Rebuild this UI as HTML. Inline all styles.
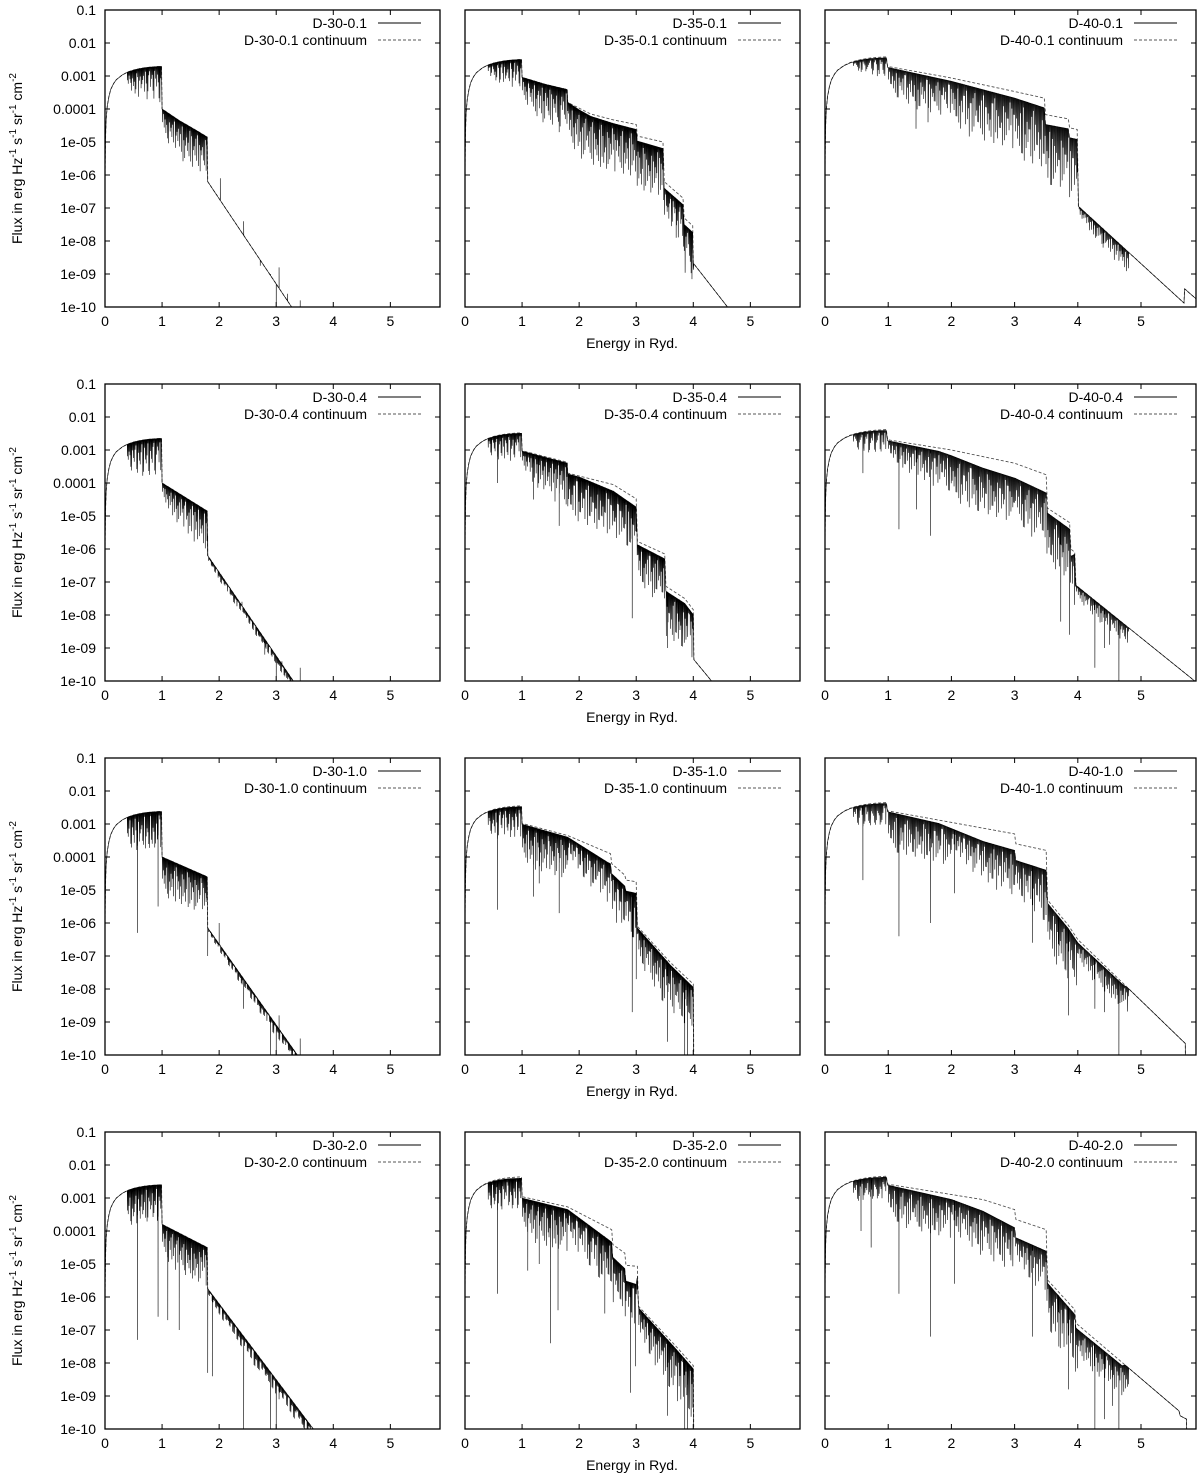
<!DOCTYPE html>
<html><head><meta charset="utf-8">
<style>
html,body{margin:0;padding:0;background:#fff;}
svg{display:block;font-family:"Liberation Sans",sans-serif;}
</style></head>
<body>
<svg id="fig" width="1200" height="1481" viewBox="0 0 1200 1481" xmlns="http://www.w3.org/2000/svg"></svg>
<script>
// ---------- data ----------
const yTickLabels = ["0.1","0.01","0.001","0.0001","1e-05","1e-06","1e-07","1e-08","1e-09","1e-10"];
const yTickLogs = [-1,-2,-3,-4,-5,-6,-7,-8,-9,-10];
const xTickLabels = ["0","1","2","3","4","5"];
const xTickVals = [0,1,2,3,4,5];
const panelNames = ["D-30-0.1","D-35-0.1","D-40-0.1","D-30-0.4","D-35-0.4","D-40-0.4","D-30-1.0","D-35-1.0","D-40-1.0","D-30-2.0","D-35-2.0","D-40-2.0"];
// rising part: dex relative to peak
const rise = [[0,-3.4],[0.01,-2.1],[0.02,-1.6],[0.04,-1.2],[0.07,-0.9],[0.1,-0.7],[0.15,-0.52],[0.2,-0.4],[0.3,-0.26],[0.4,-0.17],[0.5,-0.11],[0.6,-0.07],[0.7,-0.04],[0.8,-0.02],[0.97,0]];
const peaks = [-2.71,-2.5,-2.42,-2.65,-2.48,-2.38,-2.62,-2.45,-2.35,-2.6,-2.36,-2.34];
const cont0 = [[0.99,-2.71],[1.0,-4.0],[1.3,-4.35],[1.6,-4.65],[1.79,-4.85],[1.8,-6.2],[3.27,-10],[3.6,-10.9]];
const cont1 = [[0.99,-2.5],[1.0,-3.04],[1.4,-3.25],[1.79,-3.41],[1.8,-3.8],[2.2,-4.15],[2.6,-4.33],[3.0,-4.47],[3.02,-4.82],[3.47,-5.0],[3.49,-6.2],[3.82,-6.7],[3.84,-7.3],[3.99,-7.54],[4.0,-8.67],[4.6,-10],[5.0,-10.9]];
const cont2 = [[0.97,-2.42],[0.99,-2.71],[2.0,-3.06],[3.0,-3.47],[3.47,-3.67],[3.49,-4.17],[3.85,-4.3],[3.87,-4.57],[3.99,-4.62],[4.01,-6.95],[5.68,-9.88],[5.69,-9.45],[5.9,-9.8]];
const cont3 = [[0.99,-2.65],[1.0,-4.0],[1.79,-4.85],[1.8,-6.2],[3.3,-10],[3.6,-10.8]];
const cont4 = [[0.99,-2.48],[1.0,-3.02],[1.4,-3.2],[1.79,-3.37],[1.8,-3.7],[2.6,-4.05],[3.0,-4.48],[3.02,-5.77],[3.5,-6.15],[3.52,-7.13],[3.85,-7.5],[4.0,-7.84],[4.01,-9.35],[4.32,-10],[4.6,-10.6]];
const cont5 = [[0.97,-2.38],[0.99,-2.69],[2.0,-3.0],[3.0,-3.4],[3.5,-3.75],[3.52,-4.76],[3.87,-5.2],[3.89,-6.0],[3.95,-6.1],[3.97,-7.1],[5.85,-10.0],[5.9,-10.1]];
const cont6 = [[0.99,-2.62],[1.0,-4.0],[1.79,-4.6],[1.8,-6.15],[3.37,-10],[3.6,-10.6]];
const cont7 = [[0.99,-2.45],[1.0,-2.98],[1.8,-3.35],[2.55,-3.9],[2.57,-4.2],[2.8,-4.55],[2.82,-4.7],[3.0,-4.75],[3.02,-6.1],[3.6,-7.2],[4.0,-7.85],[4.01,-11]];
const cont8 = [[0.97,-2.35],[0.99,-2.6],[3.0,-3.3],[3.02,-3.6],[3.5,-3.8],[3.52,-5.3],[3.85,-6.07],[4.0,-6.5],[5.7,-9.65],[5.71,-11]];
const cont9 = [[0.99,-2.6],[1.0,-3.8],[1.79,-4.5],[1.8,-5.75],[3.65,-10],[3.8,-10.35]];
const cont10 = [[0.99,-2.36],[1.0,-2.96],[1.8,-3.27],[2.57,-3.96],[2.59,-4.41],[2.8,-4.67],[2.82,-5.04],[3.02,-5.07],[3.04,-6.28],[3.7,-7.5],[4.0,-8.08],[4.01,-11]];
const cont11 = [[0.97,-2.34],[0.99,-2.58],[2.5,-3.05],[3.0,-3.35],[3.02,-3.65],[3.5,-3.96],[3.52,-5.48],[3.95,-6.38],[3.97,-6.79],[5.6,-9.45],[5.62,-9.6],[5.72,-9.7],[5.73,-11]];
// spectrum upper envelope: dex below continuum
const off0 = [[0,0],[6,0]];
const off1 = [[0,0],[1.8,0],[2.0,0.05],[3.0,0.15],[3.5,0.2],[4,0.2],[4.01,0],[6,0]];
const off2 = [[0,0],[1,0.03],[2,0.1],[3,0.2],[3.5,0.3],[3.99,0.3],[4.01,0],[6,0]];
const off3 = [[0,0],[6,0]];
const off4 = [[0,0],[2,0.03],[2.6,0.2],[3.0,0.25],[3.02,0.1],[3.5,0.15],[4,0.15],[4.01,0],[6,0]];
const off5 = [[0,0],[1,0.03],[1.8,0.1],[2.5,0.35],[3.0,0.45],[3.5,0.55],[3.52,0.15],[3.9,0.2],[3.97,0],[6,0]];
const off6 = [[0,0],[6,0]];
const off7 = [[0,0],[1.8,0.05],[2.5,0.3],[3.0,0.35],[3.02,0.05],[4,0.1],[6,0.1]];
const off8 = [[0,0],[1,0.03],[1.8,0.1],[2.5,0.4],[3.0,0.5],[3.5,0.6],[3.52,0.1],[4,0.1],[4.7,0.05],[4.8,0],[6,0]];
const off9 = [[0,0],[6,0]];
const off10 = [[0,0],[1.8,0.08],[2.5,0.35],[3.0,0.55],[3.04,0.05],[4,0.1],[6,0.1]];
const off11 = [[0,0],[1,0.03],[2,0.15],[2.5,0.35],[3.0,0.55],[3.5,0.65],[3.52,0.1],[4,0.15],[4.7,0.1],[4.75,0],[6,0]];
// line-forest depth patterns (digit x scale = dex)
const S1 = "2131423152413625142736251437261548362715392648173526481937";
const S2 = "3142536172435261748352637194825364718293546271839425367182";
const S3 = "4253617483527164938271546372819364758291738465928374615293";
const S4 = "5364728195736482917364859273648519283746592837465192837465";
const forest0 = [[0.38,0.99,0.12,S1],[1.0,1.79,0.13,S2]];
const forest1 = [[0.4,0.99,0.09,S1],[1.0,1.8,0.13,S2],[1.8,3.5,0.16,S3+S4],[3.5,4.0,0.16,S1]];
const forest2 = [[0.45,0.97,0.06,S1],[1.0,2.0,0.12,S2],[2.0,3.0,0.17,S3],[3.0,4.0,0.2,S4],[4.0,4.8,0.07,S1]];
const forest3 = [[0.38,0.99,0.12,S2],[1.0,1.79,0.13,S1],[1.8,3.4,0.03,S3]];
const forest4 = [[0.4,0.99,0.09,S2],[1.0,1.8,0.14,S1],[1.8,3.0,0.15,S4],[3.0,4.0,0.15,S3]];
const forest5 = [[0.45,0.97,0.07,S2],[1.0,2.0,0.12,S1],[2.0,3.0,0.15,S4],[3.0,3.97,0.17,S3],[3.97,4.8,0.06,S2]];
const forest6 = [[0.38,0.99,0.12,S3],[1.0,1.79,0.13,S4],[1.8,3.4,0.04,S1]];
const forest7 = [[0.4,0.99,0.1,S3],[1.0,1.8,0.14,S4],[1.8,3.0,0.15,S1],[3.0,4.0,0.15,S2]];
const forest8 = [[0.45,0.97,0.07,S3],[1.0,2.0,0.13,S4],[2.0,3.0,0.15,S1],[3.0,4.0,0.17,S2],[4.0,4.8,0.08,S3]];
const forest9 = [[0.38,0.99,0.12,S4],[1.0,1.79,0.13,S3],[1.8,3.6,0.05,S2]];
const forest10 = [[0.4,0.99,0.1,S4],[1.0,1.8,0.14,S3],[1.8,3.0,0.15,S2],[3.0,4.0,0.17,S1]];
const forest11 = [[0.45,0.97,0.07,S4],[1.0,2.0,0.13,S3],[2.0,3.0,0.15,S2],[3.0,4.0,0.17,S1],[4.0,4.8,0.1,S4]];
// individual strong lines [energy, log10 flux at tip]
const lines0 = [[2.02,-6.1],[2.43,-7.4],[2.72,-8.75],[2.9,-9.0],[3.0,-10.6],[3.05,-8.8],[3.2,-9.6],[3.42,-9.8]];
const lines1 = [[1.65,-4.7],[3.7,-7.9]];
const lines2 = [[1.44,-4.6],[1.63,-4.4],[4.25,-7.8],[4.4,-8.2],[4.65,-8.6],[4.7,-8.4]];
const lines3 = [[1.8,-5.6],[2.4,-7.6],[2.8,-9.2],[3.0,-10.4],[3.1,-9.4],[3.42,-9.6]];
const lines4 = [[0.57,-4.0],[1.2,-4.5],[1.65,-5.3],[2.93,-8.1],[3.55,-9.0],[3.75,-8.2]];
const lines5 = [[0.6,-3.7],[1.17,-5.4],[1.45,-4.8],[1.67,-5.6],[3.73,-8.2],[3.87,-8.6],[4.27,-9.6],[4.42,-9.0],[4.5,-8.9],[4.65,-10.5]];
const lines6 = [[0.57,-6.3],[0.93,-5.5],[1.8,-7.0],[2.0,-6.0],[2.43,-8.6],[2.9,-10.2],[3.0,-10.3],[3.05,-8.8],[3.42,-9.5]];
const lines7 = [[0.57,-5.6],[1.2,-5.2],[1.3,-4.8],[1.65,-5.7],[2.93,-8.7],[3.0,-7.7],[3.55,-9.6],[3.85,-10.3],[3.9,-10.5]];
const lines8 = [[0.6,-4.7],[1.17,-6.4],[1.67,-6.0],[2.05,-5.1],[3.28,-6.6],[3.7,-7.0],[3.85,-8.8],[4.27,-8.6],[4.42,-8.7],[4.55,-7.9],[4.65,-10.3]];
const lines9 = [[0.57,-7.3],[0.93,-6.6],[1.1,-6.7],[1.3,-7.0],[1.8,-8.3],[1.88,-8.4],[2.43,-10.3],[2.9,-10.2],[3.0,-10.5],[3.05,-9.1],[3.4,-9.6]];
const lines10 = [[0.57,-5.9],[1.1,-5.2],[1.3,-5.0],[1.5,-7.4],[1.63,-6.4],[2.45,-6.5],[2.9,-8.9],[2.99,-8.1],[3.55,-9.6],[3.85,-10.5],[3.9,-10.3]];
const lines11 = [[0.57,-4.0],[0.73,-4.5],[1.17,-5.9],[1.67,-7.2],[2.05,-5.6],[3.28,-7.2],[3.7,-7.5],[3.85,-8.8],[4.27,-10],[4.42,-9.7],[4.55,-9.3],[4.65,-10.5]];
const specEnd = [3.45,4.7,5.9,3.42,4.6,5.9,3.42,4.0,5.7,3.65,4.0,5.73];

const conts=[cont0,cont1,cont2,cont3,cont4,cont5,cont6,cont7,cont8,cont9,cont10,cont11];
const offs=[off0,off1,off2,off3,off4,off5,off6,off7,off8,off9,off10,off11];
const forests=[forest0,forest1,forest2,forest3,forest4,forest5,forest6,forest7,forest8,forest9,forest10,forest11];
const linesAll=[lines0,lines1,lines2,lines3,lines4,lines5,lines6,lines7,lines8,lines9,lines10,lines11];

// ---------- layout ----------
const colL=[105,465,825], colR=[440,800,1196];
const rowT=[10,384,758,1132], PH=297, XMAX=5.87;
const NS="http://www.w3.org/2000/svg";
const svg=document.getElementById('fig');
function el(tag,attrs,parent){const e=document.createElementNS(NS,tag);for(const k in attrs)e.setAttribute(k,attrs[k]);(parent||svg).appendChild(e);return e;}
function interp(k,E){if(E<=k[0][0])return k[0][1];for(let i=1;i<k.length;i++){if(E<=k[i][0]){const a=k[i-1],b=k[i];return a[1]+(b[1]-a[1])*(E-a[0])/(b[0]-a[0]);}}return k[k.length-1][1];}

for(let p=0;p<12;p++){
  const r=Math.floor(p/3), c=p%3;
  const L=colL[c], R=colR[c], T=rowT[r], B=T+PH;
  const xs=E=>L+(E/XMAX)*(R-L);
  const ys=v=>T+(-1-v)/9*PH;
  const g=el('g',{});
  
  
  const clipId='clip'+p;
  const cp=el('clipPath',{id:clipId},g);el('rect',{x:L,y:T,width:R-L,height:PH},cp);
  const fullCont=rise.map(d=>[d[0],peaks[p]+d[1]]).concat(conts[p]);
  const cf=E=>interp(fullCont,E);
  const top=E=>cf(E)-interp(offs[p],E);
  // continuum
  let cpts=[];for(let E=0;E<=XMAX+0.01;E+=0.005)cpts.push(xs(E).toFixed(1)+','+ys(cf(E)).toFixed(1));
  const cl=el('polyline',{points:cpts.join(' '),fill:'none',stroke:'#555','stroke-width':0.9,'stroke-dasharray':'3,2','clip-path':'url(#'+clipId+')'},g);
  
  
  // spectrum
  let pts=[];const end=specEnd[p];
  for(let E=0;E<=end;E+=0.005){
    pts.push([E,top(E)]);
    for(const f of forests[p]){
      if(E>=f[0]&&E<f[1]){const n=f[3].length;const i=Math.floor((E-f[0])/(f[1]-f[0])*n);
        const d=parseInt(f[3][Math.min(i,n-1)])*f[2];
        if(Math.round(E/0.005)%3===0)pts.push([E+0.002,top(E)-d]);}
    }
  }
  for(const ln of linesAll[p]){pts.push([ln[0]-0.0015,top(ln[0])]);pts.push([ln[0],ln[1]]);pts.push([ln[0]+0.0015,top(ln[0])]);}
  pts.push([end+0.001,-11]);
  pts.sort((a,b)=>a[0]-b[0]);
  const sl=el('polyline',{points:pts.map(q=>xs(q[0]).toFixed(2)+','+ys(q[1]).toFixed(1)).join(' '),fill:'none',stroke:'#000','stroke-width':0.6,'clip-path':'url(#'+clipId+')'},g);
  
  
  // frame
  const fr=el('rect',{x:L,y:T,width:R-L,height:PH,fill:'none',stroke:'#000','stroke-width':1.3},g);
  
  
  // y ticks
  yTickLogs.forEach((v,i)=>{
    const y=ys(v);
    el('line',{x1:L,x2:L+5,y1:y,y2:y,stroke:'#000','stroke-width':1},g);
    el('line',{x1:R,x2:R-5,y1:y,y2:y,stroke:'#000','stroke-width':1},g);
    if(c===0){const t=el('text',{x:L-9,y:y+5,'text-anchor':'end','font-size':14},g);t.textContent=yTickLabels[i];
      
      }
  });
  xTickVals.forEach((v,i)=>{
    const x=xs(v);
    el('line',{x1:x,x2:x,y1:B,y2:B-5,stroke:'#000','stroke-width':1},g);
    el('line',{x1:x,x2:x,y1:T,y2:T+5,stroke:'#000','stroke-width':1},g);
    const t=el('text',{x:x,y:B+19,'text-anchor':'middle','font-size':14},g);t.textContent=xTickLabels[i];
    
    
  });
  // legend
  const lg=el('g',{},g);
  
  
  const tx=R-73;
  const t1=el('text',{x:tx,y:T+18,'text-anchor':'end','font-size':14},lg);t1.textContent=panelNames[p];
  
  
  el('line',{x1:R-62,x2:R-19,y1:T+13,y2:T+13,stroke:'#000','stroke-width':0.9},lg);
  const t2=el('text',{x:tx,y:T+35,'text-anchor':'end','font-size':14},lg);t2.textContent=panelNames[p]+' continuum';
  
  
  el('line',{x1:R-62,x2:R-19,y1:T+30,y2:T+30,stroke:'#555','stroke-width':0.9,'stroke-dasharray':'3,2'},lg);
  if(c===1){const t=el('text',{x:632,y:B+41,'text-anchor':'middle','font-size':14},g);t.textContent='Energy in Ryd.';
    
    }
  if(c===0){const cy=T+PH/2;const t=el('text',{x:0,y:0,'text-anchor':'middle','font-size':14,transform:'translate(22,'+(cy)+') rotate(-90)'},g);
    
    
    t.innerHTML='Flux in erg Hz<tspan dy="-6" font-size="10">-1</tspan><tspan dy="6"> s</tspan><tspan dy="-6" font-size="10">-1</tspan><tspan dy="6"> sr</tspan><tspan dy="-6" font-size="10">-1</tspan><tspan dy="6"> cm</tspan><tspan dy="-6" font-size="10">-2</tspan>';}
}
</script>
</body></html>
